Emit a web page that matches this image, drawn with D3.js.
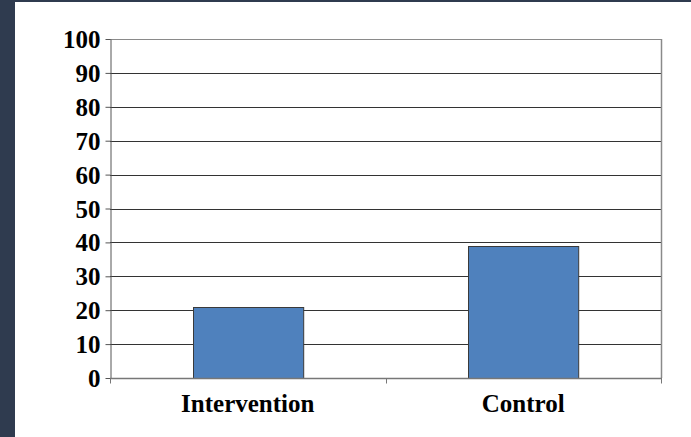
<!DOCTYPE html>
<html>
<head>
<meta charset="utf-8">
<script src="https://cdn.jsdelivr.net/npm/d3@7/dist/d3.min.js"></script>
<style>
  html, body { margin: 0; padding: 0; background: #ffffff; }
  svg { display: block; }
</style>
</head>
<body>
<script>
// Outcome percentage per study arm
const categories = ["Intervention", "Control"];
const values = [21, 39];
const yTicks = [0, 10, 20, 30, 40, 50, 60, 70, 80, 90, 100];

const W = 691, H = 437;
const plot = { left: 110, right: 661, top: 39, bottom: 378 };

const svg = d3.select("body").append("svg")
  .attr("width", W).attr("height", H);

// slide frame: dark strip on the left and along the top
svg.append("rect").attr("x", 0).attr("y", 0).attr("width", W).attr("height", H).attr("fill", "#ffffff");
svg.append("rect").attr("x", 0).attr("y", 0).attr("width", 15).attr("height", H).attr("fill", "#2f3b4f");
svg.append("rect").attr("x", 0).attr("y", 0).attr("width", W).attr("height", 2).attr("fill", "#2f3b4f");

const x = d3.scaleBand()
  .domain(categories)
  .range([plot.left, plot.right])
  .paddingInner(0.6)
  .paddingOuter(0.3);

const y = d3.scaleLinear()
  .domain([0, 100])
  .range([plot.bottom, plot.top]);

const font = "'Liberation Serif', 'Times New Roman', serif";
const fontSize = 25;

// horizontal gridlines
svg.append("g")
  .selectAll("line")
  .data(yTicks.filter(t => t > 0))
  .join("line")
  .attr("x1", plot.left).attr("x2", plot.right)
  .attr("y1", d => Math.round(y(d)) + 0.5).attr("y2", d => Math.round(y(d)) + 0.5)
  .attr("stroke", d => d === 100 ? "#8a8a8a" : "#333333")
  .attr("stroke-width", 1);

// right border of plot area
svg.append("line")
  .attr("x1", plot.right + 0.5).attr("x2", plot.right + 0.5)
  .attr("y1", plot.top).attr("y2", plot.bottom)
  .attr("stroke", "#8a8a8a").attr("stroke-width", 1.5);

// bars
svg.append("g")
  .selectAll("rect")
  .data(categories.map((c, i) => ({ c, v: values[i] })))
  .join("rect")
  .attr("x", d => Math.round(x(d.c)) + 0.5)
  .attr("y", d => Math.round(y(d.v)) + 0.5)
  .attr("width", x.bandwidth())
  .attr("height", d => y(0) - Math.round(y(d.v)))
  .attr("fill", "#4f81bd")
  .attr("stroke", "#3a3a3a")
  .attr("stroke-width", 1);

// y axis
const yAxis = svg.append("g")
  .attr("transform", `translate(${plot.left + 0.5},0)`)
  .call(d3.axisLeft(y).tickValues(yTicks).tickSize(5).tickPadding(5).tickSizeOuter(0));
yAxis.select(".domain").attr("stroke", "#555555");
yAxis.selectAll(".tick line").attr("stroke", "#555555");
yAxis.selectAll(".tick text")
  .attr("font-family", font)
  .attr("font-weight", "bold")
  .attr("font-size", fontSize)
  .attr("fill", "#000000")
  .attr("dy", "0.34em");

// x axis with boundary ticks between categories
const xAxisG = svg.append("g")
  .attr("transform", `translate(0,${plot.bottom + 0.5})`);
xAxisG.append("line")
  .attr("x1", plot.left).attr("x2", plot.right + 1)
  .attr("stroke", "#777777").attr("stroke-width", 1.5);
const step = (plot.right - plot.left) / categories.length;
xAxisG.selectAll("line.tick")
  .data(d3.range(categories.length + 1))
  .join("line")
  .attr("class", "tick")
  .attr("x1", i => Math.round(plot.left + i * step) + 0.5)
  .attr("x2", i => Math.round(plot.left + i * step) + 0.5)
  .attr("y1", 0).attr("y2", 5)
  .attr("stroke", "#777777");
xAxisG.selectAll("text")
  .data(categories)
  .join("text")
  .attr("x", d => x(d) + x.bandwidth() / 2)
  .attr("y", 33)
  .attr("text-anchor", "middle")
  .attr("font-family", font)
  .attr("font-weight", "bold")
  .attr("font-size", fontSize)
  .attr("fill", "#000000")
  .text(d => d);
</script>
</body>
</html>
